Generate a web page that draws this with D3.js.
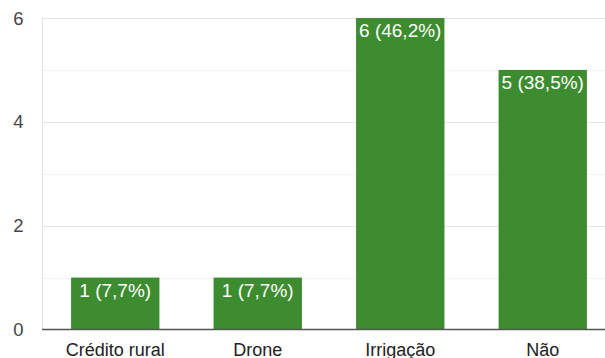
<!DOCTYPE html>
<html>
<head>
<meta charset="utf-8">
<script src="https://cdn.jsdelivr.net/npm/d3@7"></script>
<style>
  html, body { margin: 0; padding: 0; background: #fff; }
  svg { display: block; font-family: "Liberation Sans", Arial, sans-serif; }
</style>
</head>
<body>
<svg id="chart" width="605" height="358"></svg>
<script>
// Responses per option
const categories = ["Crédito rural", "Drone", "Irrigação", "Não"];
const counts = [1, 1, 6, 5];
const labels = ["1 (7,7%)", "1 (7,7%)", "6 (46,2%)", "5 (38,5%)"];
const yTicks = [0, 2, 4, 6];
const yMinorTicks = [1, 3, 5];

const svg = d3.select("#chart");
const plotLeft = 42, plotRight = 605, plotTop = 18, plotBottom = 329.5;

const x = d3.scaleBand()
  .domain(categories)
  .range([44, 614])
  .paddingInner(0.38)
  .paddingOuter(0.19);

const y = d3.scaleLinear().domain([0, 6]).range([plotBottom, plotTop]);

// minor gridlines
svg.append("g").selectAll("line").data(yMinorTicks).join("line")
  .attr("x1", plotLeft).attr("x2", plotRight)
  .attr("y1", d => Math.round(y(d)) + 0.5).attr("y2", d => Math.round(y(d)) + 0.5)
  .attr("stroke", "#f3f3f3").attr("stroke-width", 1);

// major gridlines
svg.append("g").selectAll("line").data(yTicks.filter(d => d > 0)).join("line")
  .attr("x1", plotLeft).attr("x2", plotRight)
  .attr("y1", d => Math.round(y(d)) + 0.5).attr("y2", d => Math.round(y(d)) + 0.5)
  .attr("stroke", "#e3e3e3").attr("stroke-width", 1);

// left edge line
svg.append("line")
  .attr("x1", plotLeft + 0.5).attr("x2", plotLeft + 0.5)
  .attr("y1", plotTop).attr("y2", plotBottom)
  .attr("stroke", "#e3e3e3");

// y tick labels
svg.append("g").selectAll("text").data(yTicks).join("text")
  .attr("x", 23.5).attr("y", d => y(d) + 6.5)
  .attr("text-anchor", "end")
  .attr("font-size", 18.5)
  .attr("fill", "#444")
  .text(d => d);

// bars
svg.append("g").selectAll("rect").data(counts).join("rect")
  .attr("x", (d, i) => x(categories[i]))
  .attr("width", x.bandwidth())
  .attr("y", d => y(d))
  .attr("height", d => plotBottom - y(d))
  .attr("fill", "#3d8c2f");

// value labels inside bars
svg.append("g").selectAll("text").data(counts).join("text")
  .attr("x", (d, i) => x(categories[i]) + x.bandwidth() / 2)
  .attr("y", d => y(d) + 19)
  .attr("text-anchor", "middle")
  .attr("font-size", 19)
  .attr("fill", "#ffffff")
  .text((d, i) => labels[i]);

// baseline
svg.append("line")
  .attr("x1", plotLeft).attr("x2", plotRight)
  .attr("y1", plotBottom).attr("y2", plotBottom)
  .attr("stroke", "#555").attr("stroke-width", 1.5);

// category labels
svg.append("g").selectAll("text").data(categories).join("text")
  .attr("x", d => x(d) + x.bandwidth() / 2)
  .attr("y", 356)
  .attr("text-anchor", "middle")
  .attr("font-size", 18)
  .attr("fill", "#222")
  .text(d => d);
</script>
</body>
</html>
